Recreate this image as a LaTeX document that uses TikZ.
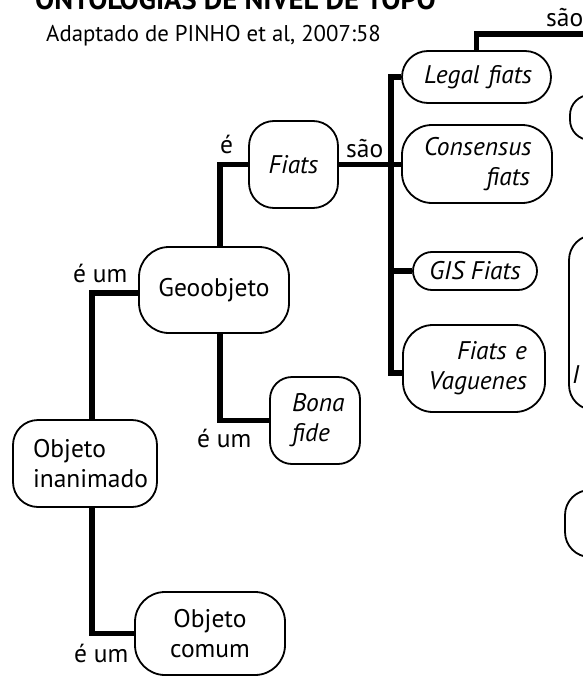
\documentclass[tikz,border=0pt]{standalone}
\usepackage{fontspec}
\setmainfont{PT Sans}
\begin{document}
\begin{tikzpicture}[x=1pt,y=-1pt,
  nodetext/.style={font=\fontsize{25.5}{30}\selectfont},
  box/.style={draw=black, line width=1.8pt, rounded corners=#1, inner sep=0pt, nodetext},
  box/.default=25pt,
  conn/.style={line width=5.8pt, line join=miter},
  lbl/.style={inner sep=0pt, anchor=base west, nodetext}
]
\useasboundingbox (0,0) rectangle (583,677);
\clip (0,0) rectangle (583,677);
\fill[white] (0,0) rectangle (583,677);

% title and source
\node[inner sep=0pt, anchor=base west, font=\fontsize{28.6}{32}\selectfont\bfseries] (title) at (35,10) {ONTOLOGIAS DE NÍVEL DE TOPO};
\node[inner sep=0pt, anchor=base west, font=\fontsize{22.8}{26}\selectfont] (source) at (46,42) {Adaptado de PINHO et al, 2007:58};

% boxes
\node[box=26pt, minimum width=149pt, minimum height=52pt, text width=111pt, align=right] (legal) at (476.5,77) {\itshape Legal fiats};
\node[box=30pt, minimum width=150pt, minimum height=78pt, text width=106pt, align=right] (cons) at (477,164) {\itshape Consensus\\ \itshape fiats};
\node[box=19pt, minimum width=124pt, minimum height=38pt, align=center] (gis) at (475,271) {\itshape GIS Fiats};
\node[box=30pt, minimum width=142pt, minimum height=87pt, text width=106pt, align=right] (vag) at (474,368.5) {\itshape Fiats e\\ \itshape Vaguenes};
\node[box=25pt, minimum width=89pt, minimum height=87pt, align=center] (fiats) at (293.5,164.5) {\itshape Fiats};
\node[box=30pt, minimum width=150pt, minimum height=86pt, align=center] (geo) at (214,290) {Geoobjeto};
\node[box=25pt, minimum width=144pt, minimum height=87pt, text width=104pt, align=left] (inan) at (85,463.5) {Objeto\\ inanimado};
\node[box=22pt, minimum width=90pt, minimum height=87pt, text width=46pt, align=left] (bona) at (315,420.5) {\itshape Bona\\ \itshape fide};
\node[box=30pt, minimum width=150pt, minimum height=83pt, align=center] (comum) at (210,633.5) {Objeto\\ comum};

% partially visible boxes at the right edge
\node[box=20pt, minimum width=130pt, minimum height=45pt] (r1) at (635,117.5) {};
\node[box=25pt, minimum width=130pt, minimum height=175pt] (r2) at (634,322.5) {};
\node[box=25pt, minimum width=130pt, minimum height=67pt] (r3) at (630,523.5) {};
\node[lbl] (r2t) at (572,383) {\itshape I};

% connectors
\coordinate (offR) at (600,34);
\coordinate (busT) at (391,77);
\coordinate (busB) at (391,373);
\draw[conn] (offR) -| (legal.north);
\draw[conn] (legal.west) -- (busT) -- (busB) -- (busB -| vag.west);
\draw[conn] (fiats.east) -- (fiats.east -| cons.west);
\draw[conn] (gis.west -| busT) -- (gis.west);
\draw[conn] (fiats.west) -| ([xshift=6pt]geo.north);
\draw[conn] ([xshift=6pt]geo.south) |- (bona.west);
\draw[conn] ([yshift=-3pt]geo.west) -| ([xshift=7pt]inan.north);
\draw[conn] ([xshift=7pt]inan.south) |- (comum.west);

% labels
\node[lbl] (l1) at (546,27) {são};
\node[lbl] (l2) at (346,157) {são};
\node[lbl] (l3) at (220,153) {é};
\node[lbl] (l4) at (73,282) {é um};
\node[lbl] (l5) at (197,447) {é um};
\node[lbl] (l6) at (74,662) {é um};
\end{tikzpicture}
\end{document}
